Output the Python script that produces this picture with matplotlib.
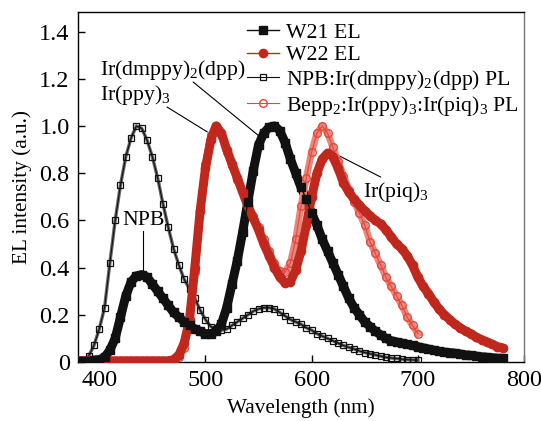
import numpy as np
import matplotlib
matplotlib.use("Agg")
import matplotlib.pyplot as plt

plt.rcParams['font.family'] = ['Liberation Serif', 'DejaVu Serif']
plt.rcParams['mathtext.fontset'] = 'custom'
plt.rcParams['mathtext.rm'] = 'Liberation Serif'

# wavelength grids (nm)
wl_el = np.arange(380, 785, 5)
wl_npb = np.arange(380, 705, 5)
wl_bepp = np.arange(470, 705, 5)

# W21 EL, 380..780
w21_el = [0.005, 0.005, 0.005, 0.008, 0.01, 0.02, 0.05, 0.10, 0.19, 0.28,
          0.34, 0.365, 0.37, 0.36, 0.33, 0.30, 0.27, 0.24, 0.21, 0.19,
          0.17, 0.155, 0.14, 0.13, 0.12, 0.12, 0.13, 0.16, 0.23, 0.33,
          0.43, 0.55, 0.68, 0.81, 0.92, 0.97, 0.995, 1.0, 0.98, 0.93,
          0.86, 0.80, 0.74, 0.69, 0.63, 0.58, 0.52, 0.47, 0.42, 0.37,
          0.32, 0.27, 0.23, 0.20, 0.17, 0.15, 0.13, 0.115, 0.10, 0.09,
          0.085, 0.08, 0.075, 0.07, 0.065, 0.06, 0.055, 0.05, 0.045, 0.042,
          0.04, 0.037, 0.034, 0.03, 0.028, 0.025, 0.022, 0.02, 0.018, 0.016,
          0.015]

# W22 EL, 380..780
w22_el = [0.005, 0.005, 0.005, 0.005, 0.005, 0.005, 0.005, 0.005, 0.005, 0.005,
          0.005, 0.005, 0.005, 0.005, 0.005, 0.005, 0.005, 0.005, 0.01, 0.03,
          0.08, 0.18, 0.40, 0.64, 0.82, 0.94, 1.0, 0.97, 0.90, 0.84,
          0.78, 0.72, 0.66, 0.61, 0.56, 0.50, 0.45, 0.40, 0.36, 0.335,
          0.34, 0.39, 0.47, 0.58, 0.70, 0.80, 0.86, 0.885, 0.87, 0.82,
          0.76, 0.72, 0.69, 0.665, 0.64, 0.62, 0.60, 0.585, 0.56, 0.53,
          0.50, 0.48, 0.45, 0.41, 0.36, 0.32, 0.29, 0.255, 0.225, 0.20,
          0.18, 0.16, 0.145, 0.13, 0.12, 0.105, 0.095, 0.085, 0.075, 0.065,
          0.06]

# NPB:Ir(dmppy)2(dpp) PL, 380..700
npb_pl = [0.0, 0.005, 0.025, 0.07, 0.14, 0.23, 0.42, 0.60, 0.75, 0.87,
          0.95, 1.0, 0.99, 0.94, 0.87, 0.78, 0.67, 0.57, 0.48, 0.41,
          0.35, 0.31, 0.27, 0.22, 0.18, 0.15, 0.14, 0.135, 0.14, 0.155,
          0.17, 0.185, 0.20, 0.215, 0.225, 0.23, 0.23, 0.225, 0.21, 0.195,
          0.18, 0.17, 0.16, 0.145, 0.135, 0.12, 0.11, 0.10, 0.09, 0.08,
          0.07, 0.062, 0.055, 0.047, 0.04, 0.035, 0.03, 0.025, 0.02, 0.017,
          0.015, 0.012, 0.01, 0.009, 0.008]

# Bepp2:Ir(ppy)3:Ir(piq)3 PL, 470..700
bepp_pl = [0.01, 0.02, 0.06, 0.16, 0.38, 0.64, 0.84, 0.96, 1.0, 0.96,
           0.89, 0.83, 0.77, 0.72, 0.67, 0.62, 0.57, 0.52, 0.47, 0.42,
           0.385, 0.38, 0.42, 0.52, 0.66, 0.78, 0.89, 0.97, 1.0, 0.97,
           0.91, 0.85, 0.79, 0.73, 0.68, 0.63, 0.58, 0.51, 0.46, 0.41,
           0.36, 0.32, 0.28, 0.24, 0.19, 0.155, 0.12]

black = '#111111'
red_el = '#c0281e'
red_pl = '#e2483c'

fig = plt.figure(figsize=(5.41, 4.21), dpi=100)
ax = fig.add_axes([0.1442, 0.1401, 0.8244, 0.8314])

# thick underlays so the dense markers read as a continuous band
ax.plot(wl_el, w21_el, color=black, lw=6.5, solid_capstyle='butt', zorder=2)
ax.plot(wl_el, w21_el, color=black, lw=1, marker='s', ms=5.5, label='W21 EL', zorder=3)

ax.plot(wl_npb, npb_pl, color='#666666', lw=2.4, zorder=2.4)
ax.plot(wl_npb, npb_pl, color=black, lw=0.8, marker='s', ms=4.5, mfc='none',
        mew=0.9, label=r'NPB:Ir(dmppy)$\mathregular{_2}$(dpp) PL', zorder=2.5)

ax.plot(wl_bepp, bepp_pl, color='#ec857a', lw=5, zorder=2.55)
ax.plot(wl_bepp, bepp_pl, color=red_pl, lw=0.8, marker='o', ms=5.5, mfc='none',
        mew=1.0, label=r'Bepp$\mathregular{_2}$:Ir(ppy)$\mathregular{_3}$:Ir(piq)$\mathregular{_3}$ PL',
        zorder=2.6)

ax.plot(wl_el, w22_el, color=red_el, lw=6.5, solid_capstyle='butt', zorder=2.7)
ax.plot(wl_el, w22_el, color=red_el, lw=1, marker='o', ms=6, label='W22 EL', zorder=2.8)

ax.set_xlim(380, 800)
ax.set_ylim(0, 1.483)
ax.set_xticks([400, 500, 600, 700, 800])
ax.set_yticks([0, 0.2, 0.4, 0.6, 0.8, 1.0, 1.2, 1.4])
ax.set_yticklabels(['0', '0.2', '0.4', '0.6', '0.8', '1.0', '1.2', '1.4'])
ax.tick_params(direction='in', length=5, width=1, labelsize=17.5, pad=6)
ax.spines['right'].set_color('#777777')
for s in ax.spines.values():
    s.set_linewidth(1)

ax.set_xlabel('Wavelength (nm)', fontsize=15.3, labelpad=5)
ax.set_ylabel('EL intensity (a.u.)', fontsize=15.3, labelpad=5)

h, l = ax.get_legend_handles_labels()
order = [0, 3, 1, 2]
ax.legend([h[i] for i in order], [l[i] for i in order], loc='upper left',
          bbox_to_anchor=(0.368, 0.982), frameon=False, fontsize=15.7,
          handlelength=1.5, handletextpad=0.3, labelspacing=0.1,
          borderaxespad=0, borderpad=0.2, numpoints=1)

fs = 15.7
lk = dict(color='black', lw=0.8)
ax.text(400.8, 1.237, r'Ir(dmppy)$\mathregular{_2}$(dpp)', fontsize=fs, ha='left', va='center')
ax.plot([488.5, 551.7], [1.186, 0.953], **lk)
ax.text(400.8, 1.131, r'Ir(ppy)$\mathregular{_3}$', fontsize=fs, ha='left', va='center')
ax.plot([464, 501.7], [1.08, 0.975], **lk)
ax.text(442, 0.60, 'NPB', fontsize=fs, ha='center', va='center')
ax.plot([441.3, 441.3], [0.555, 0.38], **lk)
ax.text(648, 0.72, r'Ir(piq)$\mathregular{_3}$', fontsize=fs, ha='left', va='center')
ax.plot([664.9, 620.6], [0.784, 0.886], **lk)

fig.savefig('out.png', dpi=100)
